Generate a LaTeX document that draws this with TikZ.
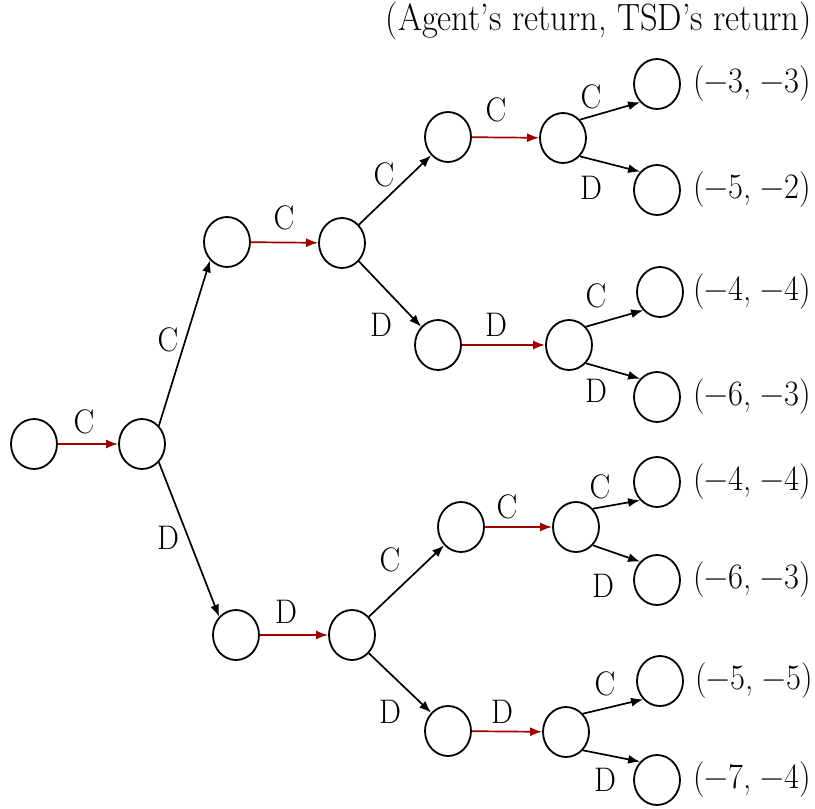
\documentclass[tikz,border=0pt]{standalone}
\usetikzlibrary{shapes.geometric,arrows.meta}
\definecolor{arrred}{RGB}{160,0,0}
\newcommand\vs[1]{\scalebox{1}[1.1]{#1}}
\newcommand\mn{\char"2212\relax}
\newcommand\pr[2]{\vs{(\mn #1,\kern0.3em\mn #2)}}
\begin{document}
\begin{tikzpicture}[x=1pt,y=-1pt,
  st/.style={ellipse,draw,line width=1.8pt,minimum width=46pt,minimum height=50pt,inner sep=0pt},
  lab/.style={inner sep=0pt,font=\fontsize{31}{36}\selectfont},
  pay/.style={inner sep=0pt,anchor=west,font=\fontsize{32.5}{36}\selectfont},
  blk/.style={line width=1.7pt,-{Latex[length=12pt,width=9pt]}},
  redarr/.style={line width=1.7pt,arrred,-{Latex[length=12pt,width=9pt]}}]
\useasboundingbox (0,0) rectangle (815,809);
% states
\node[st] (r) at (34,444) {};
\node[st] (a) at (142,444) {};
\node[st] (b) at (227,242) {};
\node[st] (c) at (236,635) {};
\node[st] (d) at (342,243) {};
\node[st] (e) at (352,635) {};
\node[st] (f) at (448,137) {};
\node[st] (g) at (438,345) {};
\node[st] (h) at (461,527) {};
\node[st] (i) at (448,731) {};
\node[st] (j) at (563,138) {};
\node[st] (k) at (569,345) {};
\node[st] (l) at (576,527) {};
\node[st] (m) at (566,732) {};
% leaves
\node[st] (l1) at (657,84) {};
\node[st] (l2) at (657,190) {};
\node[st] (l3) at (660,292) {};
\node[st] (l4) at (657,397) {};
\node[st] (l5) at (657,482) {};
\node[st] (l6) at (657,580) {};
\node[st] (l7) at (660,681) {};
\node[st] (l8) at (657,780) {};
% payoffs
\node[pay] (p1) at (693,84) {\pr{3}{3}};
\node[pay] (p2) at (693,190) {\pr{5}{2}};
\node[pay] (p3) at (693,292) {\pr{4}{4}};
\node[pay] (p4) at (693,397) {\pr{6}{3}};
\node[pay] (p5) at (693,482) {\pr{4}{4}};
\node[pay] (p6) at (693,580) {\pr{6}{3}};
\node[pay] (p7) at (695,681) {\pr{5}{5}};
\node[pay] (p8) at (693,780) {\pr{7}{4}};
\node[inner sep=0pt,anchor=east,font=\fontsize{34.5}{40}\selectfont] (title) at (812,21) {\vs{(Agent's return, TSD's return)}};
% edges
\draw[redarr] (r) -- (a);
\draw[redarr] (b) -- (d);
\draw[redarr] (c) -- (e);
\draw[redarr] (f) -- (j);
\draw[redarr] (g) -- (k);
\draw[redarr] (h) -- (l);
\draw[redarr] (i) -- (m);
\draw[blk] (a.north east) -- (b.south west);
\draw[blk] (a.south east) -- (c.north west);
\draw[blk] (d.north east) -- (f.south west);
\draw[blk] (d.south east) -- (g.north west);
\draw[blk] (e.north east) -- (h.south west);
\draw[blk] (e.south east) -- (i.north west);
\draw[blk] (j.north east) -- (l1.south west);
\draw[blk] (j.south east) -- (l2.north west);
\draw[blk] (k.north east) -- (l3.south west);
\draw[blk] (k.south east) -- (l4.north west);
\draw[blk] (l.north east) -- (l5.south west);
\draw[blk] (l.south east) -- (l6.north west);
\draw[blk] (m.north east) -- (l7.south west);
\draw[blk] (m.south east) -- (l8.north west);
% action labels
\node[lab] (t1) at (84,422) {\vs{C}};
\node[lab] (t2) at (168,340) {\vs{C}};
\node[lab] (t3) at (168,538) {\vs{D}};
\node[lab] (t4) at (284,218) {\vs{C}};
\node[lab] (t5) at (286,612) {\vs{D}};
\node[lab] (t6) at (384,175) {\vs{C}};
\node[lab] (t7) at (381,325) {\vs{D}};
\node[lab] (t8) at (496,110) {\vs{C}};
\node[lab] (t9) at (496,325) {\vs{D}};
\node[lab] (t10) at (390,560) {\vs{C}};
\node[lab] (t11) at (390,712) {\vs{D}};
\node[lab] (t12) at (507,507) {\vs{C}};
\node[lab] (t13) at (502,712) {\vs{D}};
\node[lab] (t14) at (591,97) {\vs{C}};
\node[lab] (t15) at (591,188) {\vs{D}};
\node[lab] (t16) at (596,296) {\vs{C}};
\node[lab] (t17) at (596,391) {\vs{D}};
\node[lab] (t18) at (600,487) {\vs{C}};
\node[lab] (t19) at (603,586) {\vs{D}};
\node[lab] (t20) at (605,684) {\vs{C}};
\node[lab] (t21) at (605,780) {\vs{D}};
\end{tikzpicture}
\end{document}
